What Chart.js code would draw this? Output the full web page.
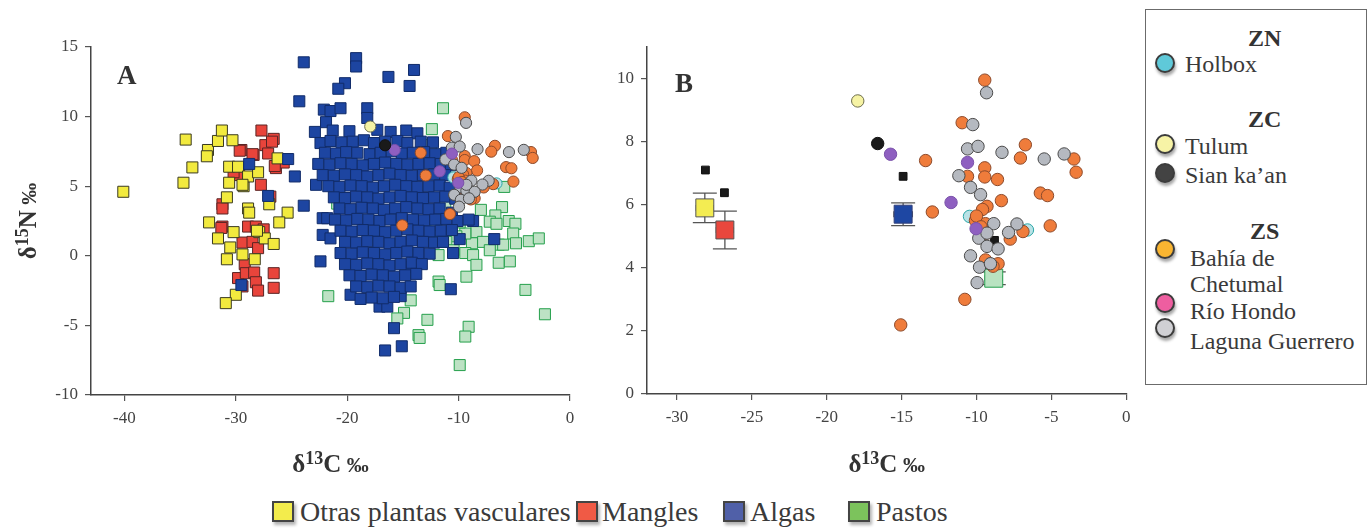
<!DOCTYPE html>
<html lang="es">
<head>
<meta charset="utf-8">
<script src="https://cdn.jsdelivr.net/npm/chart.js@4.4.1/dist/chart.umd.min.js"></script>
<style>
  body { margin: 0; background: #fff; width: 1372px; height: 529px; position: relative; overflow: hidden;
         font-family: 'Liberation Serif', 'DejaVu Serif', serif; color: #3a3a3a; }
  #panelA { position: absolute; left: 0; top: 0; }
  #panelB { position: absolute; left: 600px; top: 0; }
  #sitios { position: absolute; left: 1145px; top: 9px; width: 220px; height: 374px; border: 1.5px solid #6b6b6b; }
  #sitios div { position: absolute; font-size: 24px; line-height: 24px; white-space: nowrap; }
  #sitios .zona { font-weight: bold; color: #333; }
  #sitios .punto { width: 16px; height: 16px; border: 2px solid #3c3c3c; border-radius: 50%;
                   box-shadow: 1px 3px 3px rgba(0,0,0,0.35); }
  .caja { position: absolute; top: 501px; width: 18px; height: 17px; border: 2px solid #444;
          box-shadow: 2px 3px 3px rgba(0,0,0,0.3); }
  .etiqueta { position: absolute; top: 498px; font-size: 28px; line-height: 28px; white-space: nowrap; color: #3a3a3a; }
</style>
</head>
<body>
<canvas id="panelA" width="600" height="480"></canvas>
<canvas id="panelB" width="540" height="480"></canvas>

<div id="sitios">
  <div class="zona" style="left:102px; top:16px">ZN</div>
  <div class="punto" style="left:9px; top:43px; background:#5fc9d9"></div>
  <div style="left:39px; top:42px">Holbox</div>
  <div class="zona" style="left:102px; top:97px">ZC</div>
  <div class="punto" style="left:9px; top:124px; background:#f7f3a6"></div>
  <div style="left:39px; top:124px">Tulum</div>
  <div class="punto" style="left:9px; top:153px; background:#434343"></div>
  <div style="left:39px; top:153px">Sian ka’an</div>
  <div class="zona" style="left:104px; top:209px">ZS</div>
  <div class="punto" style="left:9px; top:229px; background:#f9b531"></div>
  <div style="left:44px; top:236px">Bahía de</div>
  <div style="left:44px; top:262px">Chetumal</div>
  <div class="punto" style="left:9px; top:283px; background:#ee5ea0"></div>
  <div style="left:44px; top:289px">Río Hondo</div>
  <div class="punto" style="left:9px; top:308px; background:#d0d0d4"></div>
  <div style="left:44px; top:319px">Laguna Guerrero</div>
</div>

<div class="caja" style="left:272px; background:#f3ec4c"></div>
<div class="etiqueta" style="left:300px">Otras plantas vasculares</div>
<div class="caja" style="left:576px; background:#f05a45"></div>
<div class="etiqueta" style="left:602px">Mangles</div>
<div class="caja" style="left:723px; background:#5060a8"></div>
<div class="etiqueta" style="left:750px">Algas</div>
<div class="caja" style="left:848px; background:#7cc35c"></div>
<div class="etiqueta" style="left:876px">Pastos</div>

<script>
// Fuentes vegetales (panel A): pares [δ13C, δ15N]
const otrasPlantas = [
  [-40.1,4.6],[-34.5,8.35],[-33.9,6.35],[-34.7,5.25],[-32.5,7.6],[-32.6,7.15],[-31.6,8.25],[-31.25,9.0],
  [-30.3,8.3],[-30.6,6.4],[-29.8,6.4],[-30.6,5.25],[-29.3,5.0],[-28.9,5.7],[-28.0,6.0],[-26.25,7.0],
  [-30.8,4.2],[-27.0,3.7],[-28.9,3.4],[-28.8,3.1],[-25.35,3.1],[-26.1,2.4],[-32.4,2.4],[-31.6,1.25],
  [-30.2,1.7],[-30.5,0.6],[-27.9,1.7],[-27.4,1.25],[-26.6,0.85],[-29.4,0.1],[-30.8,-0.25],[-28.3,-0.25],
  [-30.0,-2.8],[-30.9,-3.4],[-29.4,5.1],[-28.1,1.8]
];
const mangles = [
  [-27.7,9.0],[-26.6,8.4],[-27.35,7.95],[-29.5,7.6],[-28.4,7.25],[-27.1,7.35],[-26.4,6.3],[-25.7,6.7],
  [-26.5,6.45],[-29.7,5.8],[-27.75,5.1],[-26.9,4.25],[-31.2,3.7],[-31.2,3.4],[-31.2,2.1],[-28.9,2.1],
  [-28.2,2.1],[-27.5,1.9],[-29.4,0.95],[-28.5,1.0],[-28.0,0.55],[-29.2,-0.6],[-29.8,-1.6],[-29.1,-1.25],
  [-28.35,-1.2],[-28.2,-1.9],[-28.0,-2.5],[-26.6,-1.25],[-26.6,-2.3],[-29.4,-2.2],[-28.5,7.3],[-29.65,7.55],
  [-26.75,8.2],[-30.2,6.0],[-31.3,2.0]
];
const algas = [
  [-23.9,13.9],[-19.2,14.2],[-19.2,13.6],[-16.3,12.85],[-14.0,13.35],[-14.4,12.2],[-20.2,12.4],[-20.8,12.0],
  [-24.3,11.1],[-22.1,10.5],[-21.5,10.4],[-20.6,10.6],[-18.2,10.6],[-18.2,9.9],[-21.9,9.6],[-24.7,5.7],
  [-23.9,3.6],[-22.8,5.1],[-22.2,2.7],[-21.8,2.7],[-22.2,1.5],[-21.5,1.25],[-22.4,-0.4],[-19.7,-2.8],
  [-18.8,-3.1],[-17.1,-3.65],[-16.4,-3.65],[-15.8,-5.2],[-16.6,-6.8],[-15.1,-6.5],[-15.2,-2.9],[-14.3,-0.8],
  [-10.7,-2.4],[-10.5,0.2],[-6.8,1.2],[-8.7,2.5],[-9.9,1.2],[-25.3,6.95],[-27.1,4.3],[-29.5,-2.1],[-28.8,6.6],
  [-22.9,8.9],[-21.3,9.0],[-19.8,8.95],[-17.3,9.05],[-16.1,8.9],[-14.7,9.0],[-13.7,8.8],
  [-22.4,8.1],[-21.5,8.25],[-20.5,8.15],[-19.5,8.2],[-18.5,8.3],[-17.6,8.1],[-16.6,8.2],[-15.5,8.25],[-14.6,8.1],[-13.4,8.2],[-12.3,8.15],
  [-22.0,7.4],[-21.0,7.35],[-20.1,7.45],[-19.1,7.4],[-18.0,7.3],[-17.0,7.4],[-16.0,7.5],[-15.1,7.35],[-14.1,7.4],[-13.1,7.45],[-12.1,7.3],[-11.1,7.4],
  [-22.6,6.6],[-21.6,6.55],[-20.6,6.65],[-19.6,6.6],[-18.6,6.5],[-17.6,6.6],[-16.6,6.7],[-15.6,6.6],[-14.6,6.55],[-13.6,6.6],[-12.6,6.65],[-11.6,6.6],[-10.7,6.5],
  [-22.2,5.8],[-21.2,5.75],[-20.2,5.85],[-19.2,5.8],[-18.2,5.7],[-17.2,5.8],[-16.2,5.9],[-15.2,5.8],[-14.2,5.75],[-13.2,5.8],[-12.2,5.85],[-11.2,5.8],
  [-21.7,5.0],[-20.7,4.95],[-19.7,5.05],[-18.7,5.0],[-17.7,4.9],[-16.7,5.0],[-15.7,5.1],[-14.7,5.0],[-13.7,4.95],[-12.7,5.0],[-11.7,5.05],[-10.8,4.9],
  [-21.2,4.2],[-20.2,4.15],[-19.2,4.25],[-18.2,4.2],[-17.2,4.1],[-16.2,4.2],[-15.2,4.3],[-14.2,4.2],[-13.2,4.15],[-12.2,4.2],[-11.2,4.25],[-10.3,4.1],
  [-20.7,3.4],[-19.7,3.35],[-18.7,3.45],[-17.7,3.4],[-16.7,3.3],[-15.7,3.4],[-14.7,3.5],[-13.7,3.4],[-12.7,3.35],[-11.7,3.4],[-10.6,3.1],
  [-21.1,2.6],[-20.1,2.55],[-19.1,2.65],[-18.1,2.6],[-17.1,2.5],[-16.1,2.6],[-15.1,2.7],[-14.1,2.6],[-13.1,2.55],[-12.1,2.6],[-11.1,2.65],[-10.1,2.5],[-9.1,2.6],
  [-20.6,1.8],[-19.6,1.75],[-18.6,1.85],[-17.6,1.8],[-16.6,1.7],[-15.6,1.8],[-14.6,1.9],[-13.6,1.8],[-12.6,1.75],[-11.6,1.8],[-10.6,1.85],
  [-20.2,1.0],[-19.2,0.95],[-18.2,1.05],[-17.2,1.0],[-16.2,0.9],[-15.2,1.0],[-14.2,1.1],[-13.2,1.0],[-12.2,0.95],[-11.4,1.0],
  [-20.6,0.2],[-19.6,0.15],[-18.6,0.25],[-17.6,0.2],[-16.6,0.1],[-15.6,0.2],[-14.6,0.3],[-13.6,0.2],[-12.6,0.15],
  [-20.2,-0.6],[-19.2,-0.65],[-18.2,-0.55],[-17.2,-0.6],[-16.2,-0.7],[-15.2,-0.6],[-14.2,-0.5],[-13.3,-0.6],
  [-19.8,-1.4],[-18.8,-1.45],[-17.8,-1.35],[-16.8,-1.4],[-15.8,-1.5],[-14.8,-1.4],[-13.8,-1.3],
  [-19.2,-2.2],[-18.2,-2.25],[-17.2,-2.15],[-16.2,-2.2],[-15.2,-2.3],[-14.3,-2.2],
  [-17.8,-3.0],[-16.8,-3.05],[-15.8,-2.95]
];
const pastos = [
  [-11.4,10.6],[-12.4,9.1],[-12.5,7.95],[-5.9,4.95],[-6.1,3.5],[-6.7,2.9],[-7.2,2.45],[-6.6,2.3],[-5.5,2.5],
  [-4.9,2.3],[-5.1,1.6],[-8.4,1.7],[-8.8,0.9],[-7.8,1.0],[-9.4,1.6],[-10.2,1.4],[-11.1,1.0],[-12.1,1.0],
  [-11.8,0.05],[-10.45,0.4],[-9.4,0.2],[-8.7,0.05],[-8.4,-0.65],[-6.4,0.8],[-6.0,0.8],[-4.85,0.9],[-3.7,1.05],
  [-2.8,1.25],[-6.4,-0.5],[-5.4,-0.4],[-7.2,0.4],[-9.3,-1.5],[-11.8,-1.85],[-11.7,-2.1],[-4.0,-2.45],[-2.25,-4.2],
  [-12.8,-4.6],[-9.1,-5.1],[-9.4,-5.8],[-13.6,-5.7],[-13.5,-5.9],[-9.9,-7.85],[-21.7,-2.9],[-14.3,-3.2],
  [-14.9,-4.1],[-15.5,-4.5],[-20.3,3.9],[-20.9,3.75],[-13.9,0.2],[-11.2,3.6],[-12.0,2.2],[-9.9,2.4],[-8.0,3.3]
];

// Consumidores por sitio (paneles A y B)
const chetumal = [
  [-9.45,9.95],[-10.96,8.6],[-6.74,7.9],[-7.07,7.48],[-3.5,7.45],[-3.35,7.03],[-13.4,7.4],[-9.45,7.17],
  [-9.45,6.88],[-8.6,6.8],[-10.6,6.9],[-5.74,6.37],[-5.26,6.29],[-8.34,6.13],[-12.95,5.77],[-9.3,5.95],
  [-9.6,5.85],[-5.08,5.33],[-10.07,5.5],[-9.4,5.4],[-6.9,5.15],[-7.75,4.91],[-9.4,4.25],[-8.56,4.13],
  [-10.78,3.0],[-15.06,2.19],[-10.0,5.64],[-9.36,5.1],[-9.7,5.3],[-8.9,4.05]
];
const lagunaGuerrero = [
  [-9.33,9.55],[-10.25,8.54],[-10.6,7.77],[-9.9,7.85],[-8.3,7.66],[-5.48,7.45],[-4.15,7.61],[-11.18,6.92],
  [-10.4,6.55],[-9.73,6.32],[-8.85,5.4],[-7.3,5.39],[-7.86,5.12],[-9.85,4.94],[-9.3,4.68],[-8.56,4.6],
  [-10.4,4.38],[-9.8,4.02],[-9.07,4.13],[-9.96,3.53],[-9.3,5.1]
];
const rioHondo = [[-15.74,7.6],[-10.6,7.34],[-11.7,6.07],[-10.03,5.24]];
const sianKaan = [[-16.6,7.94]];
const tulum = [[-17.93,9.29]];
const holbox = [[-10.47,5.63],[-6.6,5.2]];

// Panel B: medias de las fuentes con su desviación
const mediasX = [-28.14, -26.8, -14.9, -8.85];
const mediasY = [5.9, 5.2, 5.7, 3.67];
const errX = [0.3, 0.3, 0.35, 0.3];
const errY = [0.47, 0.6, 0.36, 0.2];
const otrosPuntos = [[-28.1,7.1],[-26.83,6.38],[-14.9,6.9],[-8.8,4.87]];

// Ejes
const ticksXA = [-40, -30, -20, -10, 0];
const ticksYA = [-10, -5, 0, 5, 10, 15];
const ticksXB = [-30, -25, -20, -15, -10, -5, 0];
const ticksYB = [0, 2, 4, 6, 8, 10];

const pts = arr => arr.map(([x, y]) => ({ x, y }));
const serif = "'Liberation Serif', 'DejaVu Serif', serif";

function cuadros(datos, relleno, borde, orden) {
  return { data: pts(datos), pointStyle: 'rect', pointRadius: 7.8, backgroundColor: relleno,
           borderColor: borde, borderWidth: 1, order: orden };
}
function circulos(datos, relleno, borde, r, orden) {
  return { data: pts(datos), pointStyle: 'circle', pointRadius: r, backgroundColor: relleno,
           borderColor: borde, borderWidth: 1, order: orden };
}
function consumidores(r) {
  return [
    circulos(holbox, '#b9e2e6', '#2aa6a6', r, 6),
    circulos(chetumal, '#ef7c3b', '#8c4a2b', r, 5),
    circulos(lagunaGuerrero, '#b5b9c0', '#4a4a4a', r, 4),
    circulos(rioHondo, '#8e5fc0', '#7a52aa', r, 3),
    circulos(sianKaan, '#1a1a1a', '#111', r, 2),
    circulos(tulum, '#f6f3a4', '#6b6b4a', r, 1)
  ];
}

function eje(min, max, valores, fijo) {
  return {
    type: 'linear', min, max,
    afterBuildTicks: s => { s.ticks = valores.map(v => ({ value: v })); },
    afterFit: fijo,
    grid: { display: true, drawOnChartArea: false, drawTicks: true, tickLength: 6, color: '#555', lineWidth: 1.2 },
    border: { display: true, color: '#444', width: 1.5 },
    ticks: { font: { family: serif, size: 17 }, color: '#444', padding: 7, maxRotation: 0 }
  };
}

// δ con superíndice para los títulos de los ejes
function isotopo(ctx, x, y, sup, letra, angulo) {
  const partes = [['δ', 25, 0], [sup, 18, -8], [letra, 25, 0], [' ‰', 22, 0]];
  ctx.save();
  ctx.translate(x, y);
  ctx.rotate(angulo);
  ctx.fillStyle = '#333';
  ctx.textBaseline = 'alphabetic';
  let total = 0;
  partes.forEach(p => { ctx.font = `bold ${p[1]}px ${serif}`; total += ctx.measureText(p[0]).width; });
  let cx = -total / 2;
  partes.forEach(p => {
    ctx.font = `bold ${p[1]}px ${serif}`;
    ctx.fillText(p[0], cx, p[2]);
    cx += ctx.measureText(p[0]).width;
  });
  ctx.restore();
}

const rotulos = {
  id: 'rotulos',
  afterDraw(chart, args, o) {
    const { ctx, chartArea: a } = chart;
    ctx.save();
    ctx.fillStyle = '#333';
    ctx.font = `bold 27px ${serif}`;
    ctx.fillText(o.letra, o.letraX, o.letraY);
    ctx.restore();
    isotopo(ctx, (a.left + a.right) / 2, 472, '13', 'C', 0);
    if (o.ejeY) isotopo(ctx, 36, (a.top + a.bottom) / 2, '15', 'N', -Math.PI / 2);
  }
};

const barrasError = {
  id: 'barrasError',
  beforeDatasetsDraw(chart) {
    const { ctx, scales: { x, y } } = chart;
    ctx.save();
    ctx.strokeStyle = '#555';
    ctx.lineWidth = 1.3;
    mediasX.forEach((mx, i) => {
      const px = x.getPixelForValue(mx), py = y.getPixelForValue(mediasY[i]);
      const arriba = y.getPixelForValue(mediasY[i] + errY[i]);
      const abajo = y.getPixelForValue(mediasY[i] - errY[i]);
      const izq = x.getPixelForValue(mx - errX[i]), der = x.getPixelForValue(mx + errX[i]);
      ctx.beginPath();
      ctx.moveTo(px, arriba); ctx.lineTo(px, abajo);
      ctx.moveTo(px - 12, arriba); ctx.lineTo(px + 12, arriba);
      ctx.moveTo(px - 12, abajo); ctx.lineTo(px + 12, abajo);
      ctx.moveTo(izq - 4, py); ctx.lineTo(der + 4, py);
      ctx.moveTo(izq - 4, py - 3); ctx.lineTo(izq - 4, py + 3);
      ctx.moveTo(der + 4, py - 3); ctx.lineTo(der + 4, py + 3);
      ctx.stroke();
    });
    ctx.restore();
  }
};

const comunes = {
  responsive: false,
  animation: false,
  events: []
};

new Chart(document.getElementById('panelA'), {
  type: 'scatter',
  data: {
    datasets: [
      cuadros(pastos, '#bde2c4', '#25a04c', 13),
      cuadros(mangles, '#e8443b', '#5a2424', 11),
      cuadros(otrasPlantas, '#f2ea3e', '#3a3a20', 10),
      cuadros(algas, '#1d45a1', '#112c6a', 9),
      ...consumidores(5.6)
    ]
  },
  options: {
    ...comunes,
    layout: { padding: { top: 47, right: 30, left: 0, bottom: 0 } },
    plugins: { legend: { display: false }, tooltip: { enabled: false },
               rotulos: { letra: 'A', letraX: 117, letraY: 84, ejeY: true } },
    scales: {
      x: eje(-43, 0, ticksXA, s => { s.height = 85; }),
      y: eje(-10, 15, ticksYA, s => { s.width = 91; })
    }
  },
  plugins: [rotulos]
});

const colMedias = ['#f3ec52', '#e9473d', '#1e47a3', '#b9e3c1'];
const bordeMedias = ['#555', '#555', '#33407a', '#27a04f'];

new Chart(document.getElementById('panelB'), {
  type: 'scatter',
  data: {
    datasets: [
      { data: mediasX.map((x, i) => ({ x, y: mediasY[i] })), pointStyle: 'rect', pointRadius: 12.7,
        backgroundColor: colMedias, borderColor: bordeMedias, borderWidth: 1, order: 20 },
      { data: pts(otrosPuntos), pointStyle: 'rect', pointRadius: 5.5, backgroundColor: '#1a1a1a',
        borderColor: '#111', borderWidth: 1, order: 21 },
      ...consumidores(6.2)
    ]
  },
  options: {
    ...comunes,
    layout: { padding: { top: 47, right: 12, left: 0, bottom: 0 } },
    plugins: { legend: { display: false }, tooltip: { enabled: false },
               rotulos: { letra: 'B', letraX: 75, letraY: 92, ejeY: false } },
    scales: {
      x: eje(-32, 0, ticksXB, s => { s.height = 86; }),
      y: eje(0, 11, ticksYB, s => { s.width = 47; })
    }
  },
  plugins: [barrasError, rotulos]
});
</script>
</body>
</html>
